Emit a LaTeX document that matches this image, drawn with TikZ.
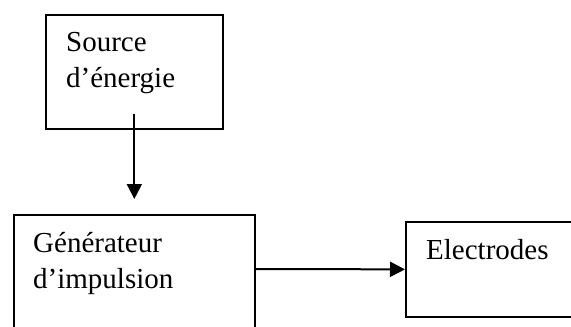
\documentclass[tikz,border=0pt]{standalone}
\usepackage{fontspec}
\setmainfont{Liberation Serif}
\usetikzlibrary{arrows.meta}
\begin{document}
\begin{tikzpicture}[x=1pt,y=-1pt,
  box/.style={draw,line width=1.7pt,rectangle,inner sep=0pt,anchor=north west},
  txt/.style={anchor=base west,align=left,inner sep=0pt,font=\fontsize{29}{35.5}\selectfont},
  arr/.style={line width=2pt,-{Triangle[length=15pt,width=15pt]}}]
\useasboundingbox (0,0) rectangle (571,327);

% boxes
\node[box,minimum width=177pt,minimum height=114pt] (src) at (45,14) {};
\node[box,minimum width=241pt,minimum height=130pt] (gen) at (13,214) {};
\node[box,minimum width=180pt,minimum height=95pt] (elec) at (405,221) {};

% texts (base = last line)
\node[txt] (srcT) at (66,87) {Source\\d’énergie};
\node[txt] (genT) at (33,288) {Générateur\\d’impulsion};
\node[txt] (elecT) at (426,259) {Electrodes};

% arrows
\draw[arr] ([yshift=16pt]src.south) -- ([yshift=15pt]gen.north);
\draw[arr] ([yshift=-55pt]gen.north east) -- (elec.west);
\end{tikzpicture}
\end{document}
